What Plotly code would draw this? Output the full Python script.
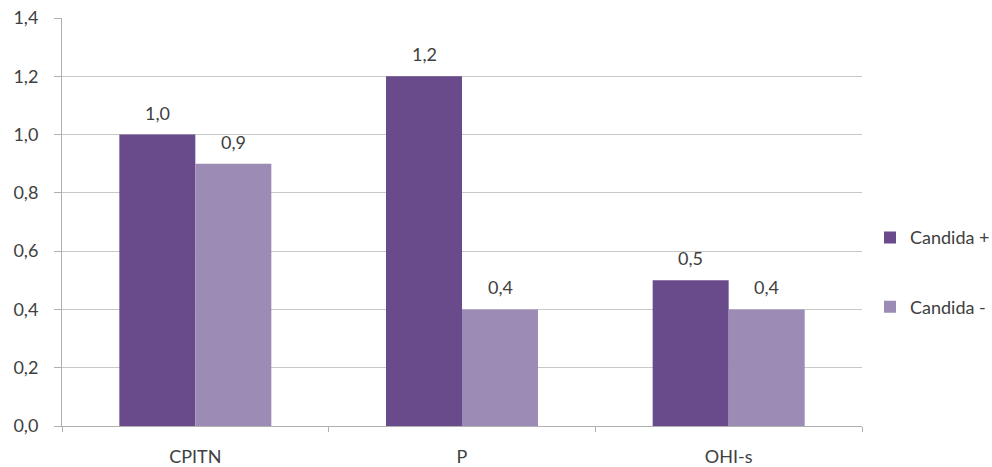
import plotly.graph_objects as go

categories = ["CPITN", "P", "OHI-s"]
series_names = ["Candida +", "Candida -"]
candida_pos = [1.0, 1.2, 0.5]
candida_neg = [0.9, 0.4, 0.4]
y_ticks = [0.0, 0.2, 0.4, 0.6, 0.8, 1.0, 1.2, 1.4]

colors = ["#694b8c", "#9b8bb5"]
font_family = "Lato, 'Open Sans', sans-serif"
text_color = "#404040"
fs = 18

fig = go.Figure()
for name, vals, col in zip(series_names, [candida_pos, candida_neg], colors):
    fig.add_trace(go.Bar(
        x=categories, y=vals, name=name,
        marker=dict(color=col, line=dict(width=0)),
        legendgroup=name,
    ))

# value labels
for vals, shift in zip([candida_pos, candida_neg], [-38, 38]):
    for c, v in zip(categories, vals):
        fig.add_annotation(
            x=c, y=v, text=f"{v:.1f}".replace(".", ","),
            xshift=shift, yshift=22, showarrow=False,
            font=dict(size=fs, color=text_color, family=font_family),
        )

fig.update_layout(
    width=992, height=467,
    margin=dict(l=62, r=130, t=18, b=41, autoexpand=False),
    paper_bgcolor="white", plot_bgcolor="white",
    barmode="group", bargap=0.43, bargroupgap=0,
    separators=",.",
    font=dict(family=font_family, size=fs, color=text_color),
    showlegend=True,
    legend=dict(
        x=1.01, y=0.377, xanchor="left", yanchor="middle",
        traceorder="grouped", tracegroupgap=43,
        font=dict(size=fs, color=text_color),
        itemwidth=30,
    ),
)
fig.update_yaxes(
    range=[0, 1.4], tickvals=y_ticks, tickformat=".1f",
    showgrid=True, gridcolor="#c8c8c8", gridwidth=1,
    showline=True, linecolor="#b0b0b0", linewidth=1,
    ticks="outside", ticklen=7, tickcolor="#b0b0b0",
    ticklabelstandoff=12, zeroline=False, automargin=False,
)
fig.update_xaxes(
    showline=True, linecolor="#b0b0b0", linewidth=1,
    ticks="outside", ticklen=5, tickcolor="#b0b0b0",
    tickson="boundaries", ticklabelstandoff=14, automargin=False,
)
fig.write_html("out.html")
